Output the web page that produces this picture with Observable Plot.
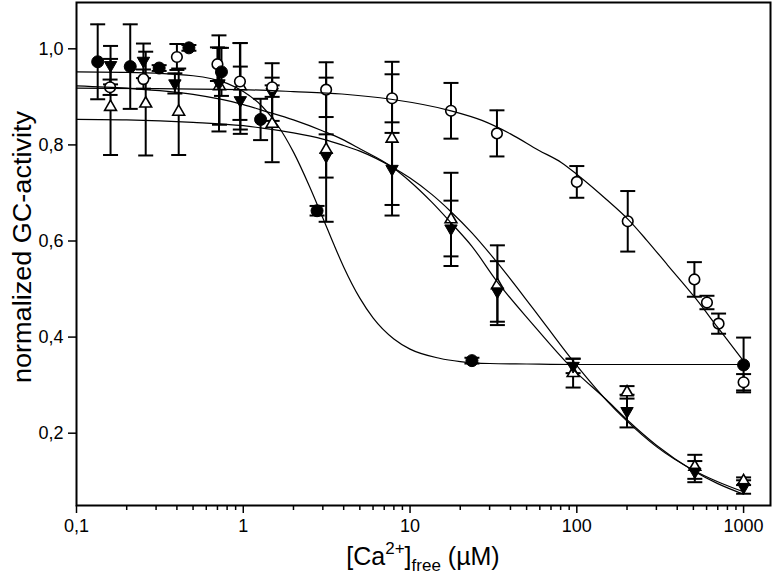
<!DOCTYPE html>
<html>
<head>
<meta charset="utf-8">
<script src="https://cdn.jsdelivr.net/npm/d3@7"></script>
<script src="https://cdn.jsdelivr.net/npm/@observablehq/plot@0.6"></script>
<style>
  body { margin: 0; background: #fff; }
  #chart { width: 774px; height: 580px; }
</style>
</head>
<body>
<div id="chart"></div>
<script>
// ---------- tick values and labels ----------
const xTicks = [0.1, 1, 10, 100, 1000];
const xTickLabels = ["0,1", "1", "10", "100", "1000"];
const yTicks = [0.2, 0.4, 0.6, 0.8, 1.0];
const yTickLabels = ["0,2", "0,4", "0,6", "0,8", "1,0"];
const xMinorTicks = [0.2,0.3,0.4,0.5,0.6,0.7,0.8,0.9, 2,3,4,5,6,7,8,9, 20,30,40,50,60,70,80,90, 200,300,400,500,600,700,800,900];

// ---------- filled circles ----------
const fcX = [0.134, 0.21, 0.313, 0.472, 0.74, 1.27, 2.77, 23.5, 1000];
const fcY = [0.973, 0.963, 0.960, 1.002, 0.952, 0.853, 0.663, 0.351, 0.342];
const fcE = [0.078, 0.088, 0.006, 0.006, 0.05, 0.043, 0.01, 0.006, 0.057];

// ---------- filled down-triangles ----------
const tdX = [0.16, 0.252, 0.389, 0.715, 0.96, 1.49, 3.14, 7.8, 17.6, 33.4, 95, 200, 510, 1000];
const tdY = [0.966, 0.975, 0.928, 0.928, 0.893, 0.91, 0.777, 0.75, 0.626, 0.495, 0.34, 0.246, 0.12, 0.088];
const tdE = [0.04, 0.036, 0.021, 0.1, 0.07, 0.06, 0.045, 0.075, 0.058, 0.063, 0.015, 0.034, 0.022, 0.014];

// ---------- open up-triangles ----------
const tuX = [0.16, 0.26, 0.41, 0.72, 0.96, 1.49, 3.14, 7.8, 17.6, 33.4, 95, 200, 510, 1000];
const tuY = [0.879, 0.886, 0.869, 0.922, 0.922, 0.844, 0.79, 0.813, 0.645, 0.508, 0.325, 0.285, 0.13, 0.1];
const tuE = [0.1, 0.108, 0.09, 0.08, 0.09, 0.08, 0.15, 0.16, 0.097, 0.083, 0.03, 0.013, 0.025, 0.008];

// ---------- open circles ----------
const ocX = [0.159, 0.252, 0.40, 0.70, 0.955, 1.49, 3.14, 7.8, 17.6, 33.2, 100, 202, 507, 603, 708, 1000];
const ocY = [0.92, 0.937, 0.983, 0.968, 0.932, 0.92, 0.915, 0.897, 0.871, 0.824, 0.723, 0.641, 0.52, 0.472, 0.428, 0.306];
const ocE = [0.016, 0.02, 0.027, 0.035, 0.08, 0.02, 0.057, 0.05, 0.058, 0.048, 0.033, 0.063, 0.036, 0.014, 0.021, 0.017];

// ---------- fitted curves ----------
const fcCurveX = [0.1, 0.2, 0.5, 0.8, 1, 1.3, 1.6, 2, 2.5, 3, 3.5, 4, 5, 6, 8, 10, 15, 20, 30, 50, 100, 1000];
const fcCurveY = [0.952, 0.951, 0.944, 0.928, 0.911, 0.880, 0.842, 0.785, 0.713, 0.648, 0.592, 0.546, 0.481, 0.440, 0.396, 0.375, 0.356, 0.349, 0.345, 0.344, 0.343, 0.343];

const ocCurveX = [0.1, 0.3, 1, 2, 3.9, 7.7, 17.6, 27, 40, 59, 81, 101.5, 150, 203, 262, 350, 509, 700, 1000];
const ocCurveY = [0.918, 0.917, 0.915, 0.911, 0.906, 0.895, 0.871, 0.851, 0.823, 0.789, 0.763, 0.737, 0.687, 0.645, 0.602, 0.55, 0.483, 0.42, 0.35];

const tdCurveX = [0.1, 0.2, 0.5, 1, 1.3, 2, 3, 3.9, 5, 7.8, 10, 13.5, 17.6, 23.5, 33, 54, 93, 150, 200, 300, 500, 700, 1000];
const tdCurveY = [0.923, 0.918, 0.905, 0.884, 0.872, 0.852, 0.829, 0.812, 0.792, 0.754, 0.724, 0.681, 0.638, 0.589, 0.517, 0.428, 0.336, 0.27, 0.228, 0.175, 0.122, 0.095, 0.073];

const tuCurveX = [0.1, 0.2, 0.5, 1, 1.3, 2, 3, 3.9, 5, 7.8, 10, 13.5, 17.6, 23.5, 33, 54, 93, 150, 200, 300, 500, 700, 1000];
const tuCurveY = [0.853, 0.852, 0.847, 0.840, 0.835, 0.825, 0.812, 0.800, 0.787, 0.754, 0.731, 0.697, 0.661, 0.617, 0.557, 0.462, 0.354, 0.269, 0.225, 0.172, 0.123, 0.099, 0.078];

// ---------- build tables ----------
const pts = (xs, ys, es) => xs.map((x, i) => ({x, y: ys[i], e: es[i]}));
const curvePts = (xs, ys) => xs.map((x, i) => ({x, y: ys[i]}));

const fc = pts(fcX, fcY, fcE);
const td = pts(tdX, tdY, tdE);
const tu = pts(tuX, tuY, tuE);
const oc = pts(ocX, ocY, ocE);
const allPts = [...tu, ...td, ...oc, ...fc];

const capSymbol = { draw(ctx) { ctx.moveTo(-7.5, 0); ctx.lineTo(7.5, 0); } };
const FONT = "'Liberation Sans', Arial, Helvetica, sans-serif";

const lineOpts = {x: "x", y: "y", curve: "monotone-x", stroke: "black", strokeWidth: 1.2};

const svg = Plot.plot({
  width: 774,
  height: 580,
  marginLeft: 76,
  marginRight: 4,
  marginTop: 2,
  marginBottom: 75,
  style: {fontFamily: FONT, fontSize: "18px", color: "black", background: "white"},
  x: {type: "log", domain: [0.1, 1450]},
  y: {domain: [0.0495, 1.0964]},
  marks: [
    Plot.axisX({ticks: xMinorTicks, tickSize: 5, tickFormat: () => "", label: null, strokeWidth: 1.5}),
    Plot.axisX({ticks: xTicks, tickSize: 8, tickPadding: 6, tickFormat: d => xTickLabels[xTicks.indexOf(d)], label: null, strokeWidth: 1.5, fontSize: 18}),
    Plot.axisY({ticks: yTicks, tickSize: 8, tickPadding: 5, tickFormat: d => yTickLabels[yTicks.indexOf(d)], label: null, strokeWidth: 1.5, fontSize: 18}),
    // error bars
    Plot.ruleX(allPts, {x: "x", y1: d => d.y - d.e, y2: d => d.y + d.e, stroke: "black", strokeWidth: 2}),
    Plot.dot(allPts, {x: "x", y: d => d.y + d.e, symbol: capSymbol, r: 1, fill: "none", stroke: "black", strokeWidth: 2}),
    Plot.dot(allPts, {x: "x", y: d => d.y - d.e, symbol: capSymbol, r: 1, fill: "none", stroke: "black", strokeWidth: 2}),
    // markers
    Plot.dot(tu, {x: "x", y: "y", symbol: "triangle", r: 4.4, fill: "white", stroke: "black", strokeWidth: 1.6}),
    Plot.dot(td, {x: "x", y: "y", symbol: "triangle", rotate: 180, r: 4.6, fill: "black", stroke: "black", strokeWidth: 1}),
    Plot.dot(oc, {x: "x", y: "y", r: 5.3, fill: "white", stroke: "black", strokeWidth: 1.6}),
    Plot.dot(fc, {x: "x", y: "y", r: 6, fill: "black", stroke: "black", strokeWidth: 1}),
    // fitted curves
    Plot.line(curvePts(fcCurveX, fcCurveY), lineOpts),
    Plot.line(curvePts(ocCurveX, ocCurveY), lineOpts),
    Plot.line(curvePts(tdCurveX, tdCurveY), lineOpts),
    Plot.line(curvePts(tuCurveX, tuCurveY), lineOpts),
    Plot.frame({stroke: "black", strokeWidth: 2})
  ]
});

const sel = d3.select(svg);
// x-axis title with superscript and subscript
const xt = sel.append("text")
  .attr("x", 423).attr("y", 565)
  .attr("text-anchor", "middle")
  .attr("font-family", FONT).attr("font-size", 25).attr("fill", "black");
xt.append("tspan").text("[Ca");
xt.append("tspan").attr("font-size", 17).attr("dy", -11).text("2+");
xt.append("tspan").attr("dy", 11).text("]");
xt.append("tspan").attr("font-size", 17).attr("dy", 6).text("free");
xt.append("tspan").attr("dy", -6).text(" (µM)");

// y-axis title
sel.append("text")
  .attr("transform", "translate(31,247) rotate(-90)")
  .attr("text-anchor", "middle")
  .attr("font-family", FONT).attr("font-size", 26).attr("fill", "black")
  .attr("textLength", 272).attr("lengthAdjust", "spacingAndGlyphs")
  .text("normalized GC-activity");

document.getElementById("chart").appendChild(svg);
</script>
</body>
</html>
